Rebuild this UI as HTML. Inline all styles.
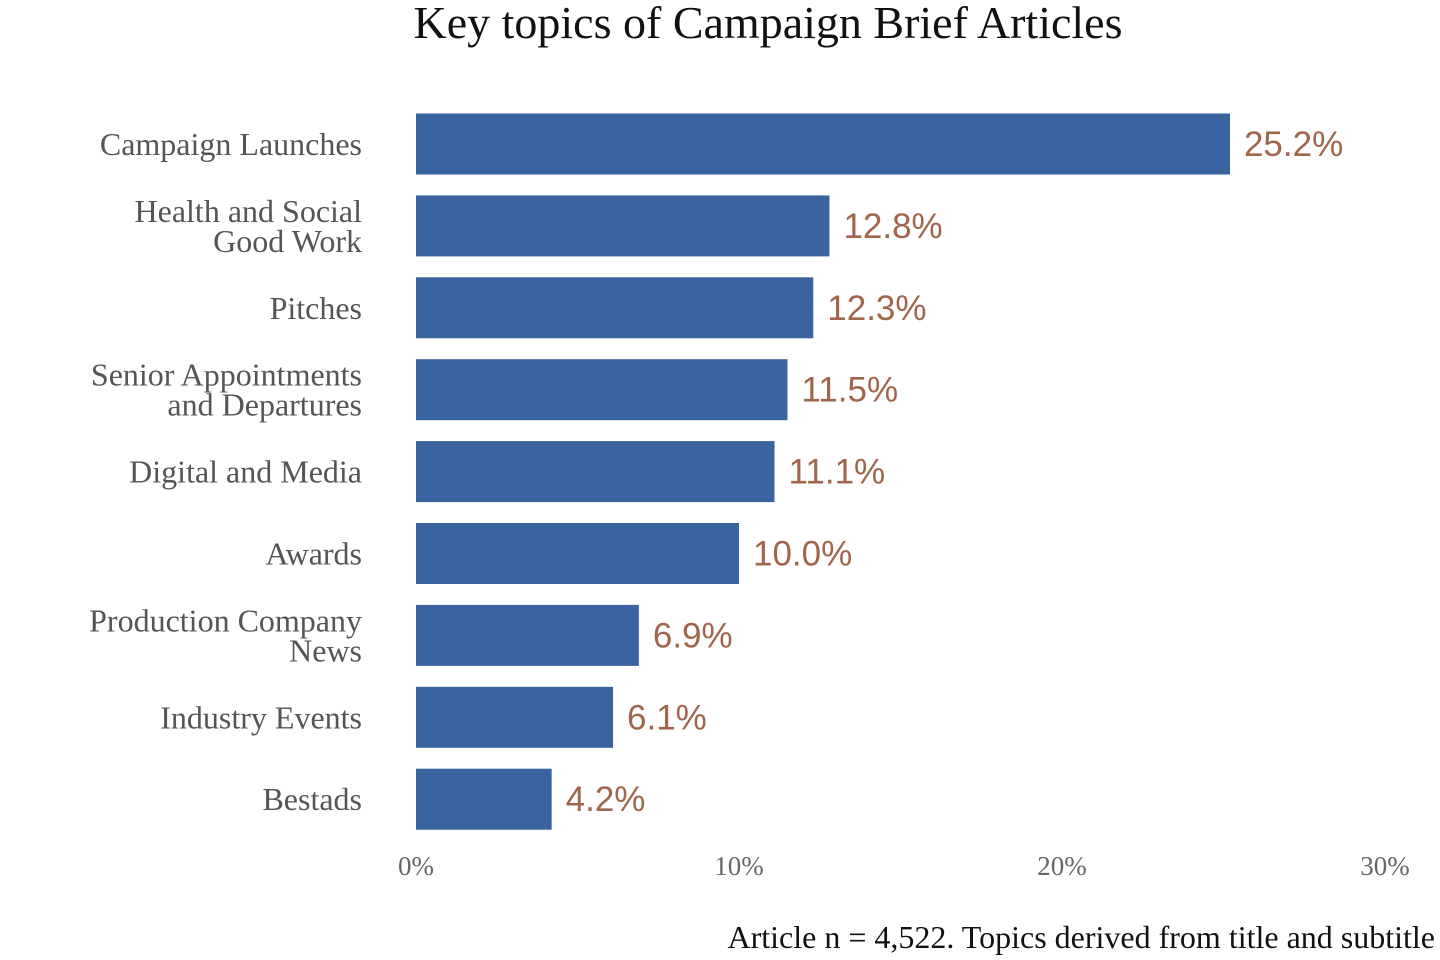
<!DOCTYPE html>
<html><head><meta charset="utf-8"><style>
html,body{margin:0;padding:0;background:#fff;}
svg{display:block;}
</style></head><body>
<svg id="chart" width="1440" height="960" xmlns="http://www.w3.org/2000/svg">
<text x="768" y="38" text-anchor="middle" font-family="Liberation Serif, serif" font-size="46" fill="#111">Key topics of Campaign Brief Articles</text>
<g id="bars"></g>
<g id="cats"></g>
<g id="vals"></g>
<g id="ticks"></g>
<text x="1435" y="948" text-anchor="end" font-family="Liberation Serif, serif" font-size="32" fill="#111">Article n = 4,522. Topics derived from title and subtitle</text>
</svg>
<script>
const categories=[["Campaign Launches"],["Health and Social","Good Work"],["Pitches"],["Senior Appointments","and Departures"],["Digital and Media"],["Awards"],["Production Company","News"],["Industry Events"],["Bestads"]];
const values=[25.2,12.8,12.3,11.5,11.1,10.0,6.9,6.1,4.2];
const tickValues=[0,10,20,30];
const tickLabels=["0%","10%","20%","30%"];
const NS="http://www.w3.org/2000/svg";
const x0=416,pxPer=32.3;
function xs(v){return x0+v*pxPer;}
function yc(i){return 144+i*81.9;}
const bh=61;
function mk(tag,attrs,parent,text){const e=document.createElementNS(NS,tag);for(const k in attrs)e.setAttribute(k,attrs[k]);if(text!=null)e.textContent=text;document.getElementById(parent).appendChild(e);return e;}
values.forEach((v,i)=>{
  const r=mk("rect",{x:xs(0),y:yc(i)-bh/2,width:xs(v)-xs(0),height:bh,fill:"#3a64a0"},"bars");
  
  
  const t=mk("text",{x:xs(v)+14,y:yc(i)+12,"font-family":"Liberation Sans, sans-serif","font-size":"35",fill:"#a0654a"},"vals",v.toFixed(1)+"%");
  
  
  const lines=categories[i];
  const start=yc(i)+11-(lines.length-1)*15;
  lines.forEach((ln,j)=>{
    const c=mk("text",{x:362,y:start+j*30,"text-anchor":"end","font-family":"Liberation Serif, serif","font-size":"32",fill:"#555"},"cats",ln);
    
    
  });
});
tickValues.forEach((tv,i)=>{
  const t=mk("text",{x:xs(tv),y:875,"text-anchor":"middle","font-family":"Liberation Serif, serif","font-size":"27",fill:"#666"},"ticks",tickLabels[i]);
  
  
});
</script>
</body></html>
